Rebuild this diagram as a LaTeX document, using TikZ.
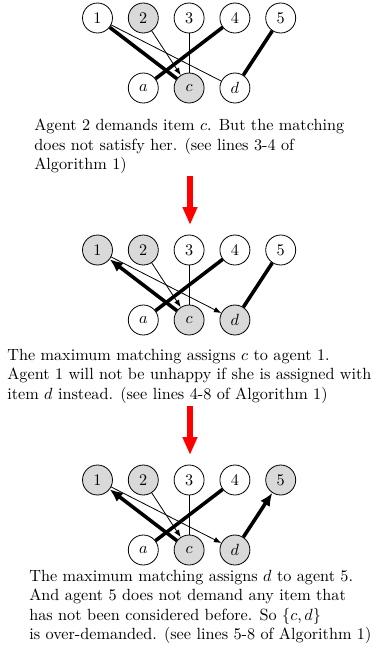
\documentclass[tikz,border=0pt]{standalone}
\usetikzlibrary{arrows.meta}
\begin{document}
\begin{tikzpicture}[x=0.617pt,y=-0.617pt,
  vert/.style={circle,draw,line width=0.5pt,minimum size=18.5pt,inner sep=0pt,font=\normalsize},
  lit/.style={vert,fill=gray!30},
  link/.style={line width=0.5pt},
  linkarr/.style={link,-{Latex[length=4.5pt,width=3.5pt]}},
  match/.style={line width=2.2pt},
  matcharr/.style={match,-{Latex[length=8pt,width=7pt]}},
  stepdown/.style={red,line width=3.2pt,-{Triangle[length=11pt,width=8.5pt]}},
  txt/.style={anchor=base west,inner sep=0pt,font=\normalsize}]
\useasboundingbox (0,0) rectangle (373,651);

% ---------- first stage ----------
\node[vert] (A1) at (97.5,18) {1};
\node[lit]  (A2) at (143.3,18) {2};
\node[vert] (A3) at (189.1,18) {3};
\node[vert] (A4) at (234.9,18) {4};
\node[vert] (A5) at (280.7,18) {5};
\node[vert] (Aa) at (143.3,88) {$a$};
\node[lit]  (Ac) at (189.1,88) {$c$};
\node[vert] (Ad) at (234.9,88) {$d$};
\draw[match] (A1) -- (Ac);
\draw[link] (A1) -- (Ad);
\draw[linkarr] (A2) -- (Ac);
\draw[link] (A3) -- (Ac);
\draw[match] (A4) -- (Aa);
\draw[match] (A5) -- (Ad);

\node[txt] (t1a) at (34,130.5) {Agent 2 demands item $c$. But the matching};
\node[txt] (t1b) at (34,150) {does not satisfy her. (see lines 3-4 of};
\node[txt] (t1c) at (34,169.5) {Algorithm 1)};

\coordinate (r1s) at (190,176);
\coordinate (r1e) at (190,225);
\draw[stepdown] (r1s) -- (r1e);

% ---------- second stage ----------
\node[lit]  (B1) at (97.5,250) {1};
\node[lit]  (B2) at (143.3,250) {2};
\node[vert] (B3) at (189.1,250) {3};
\node[vert] (B4) at (234.9,250) {4};
\node[vert] (B5) at (280.7,250) {5};
\node[vert] (Ba) at (143.3,320) {$a$};
\node[lit]  (Bc) at (189.1,320) {$c$};
\node[lit]  (Bd) at (234.9,320) {$d$};
\draw[matcharr] (Bc) -- (B1);
\draw[linkarr] (B1) -- (Bd);
\draw[linkarr] (B2) -- (Bc);
\draw[link] (B3) -- (Bc);
\draw[match] (B4) -- (Ba);
\draw[match] (B5) -- (Bd);

\node[txt] (t2a) at (7,360) {The maximum matching assigns $c$ to agent 1.};
\node[txt] (t2b) at (7,379.7) {Agent 1 will not be unhappy if she is assigned with};
\node[txt] (t2c) at (7,399.3) {item $d$ instead. (see lines 4-8 of Algorithm 1)};

\coordinate (r2s) at (190,406);
\coordinate (r2e) at (190,455);
\draw[stepdown] (r2s) -- (r2e);

% ---------- third stage ----------
\node[lit]  (C1) at (97.5,480) {1};
\node[lit]  (C2) at (143.3,480) {2};
\node[vert] (C3) at (189.1,480) {3};
\node[vert] (C4) at (234.9,480) {4};
\node[lit]  (C5) at (280.7,480) {5};
\node[vert] (Ca) at (143.3,550) {$a$};
\node[lit]  (Cc) at (189.1,550) {$c$};
\node[lit]  (Cd) at (234.9,550) {$d$};
\draw[matcharr] (Cc) -- (C1);
\draw[linkarr] (C1) -- (Cd);
\draw[linkarr] (C2) -- (Cc);
\draw[link] (C3) -- (Cc);
\draw[match] (C4) -- (Ca);
\draw[matcharr] (Cd) -- (C5);

\node[txt] (t3a) at (29,581) {The maximum matching assigns $d$ to agent 5.};
\node[txt] (t3b) at (29,600.5) {And agent 5 does not demand any item that};
\node[txt] (t3c) at (29,620) {has not been considered before. So $\{c,d\}$};
\node[txt] (t3d) at (29,639.5) {is over-demanded. (see lines 5-8 of Algorithm 1)};
\end{tikzpicture}
\end{document}
